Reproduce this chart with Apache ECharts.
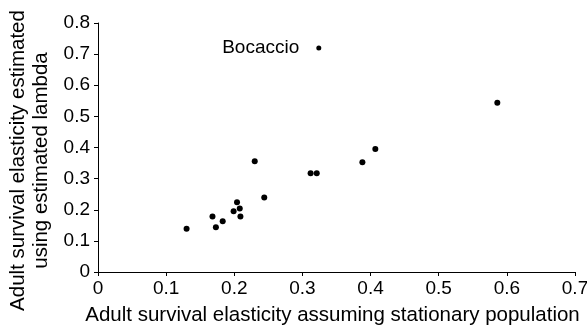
<!DOCTYPE html>
<html><head><meta charset="utf-8">
<script src="https://cdn.jsdelivr.net/npm/echarts@6/dist/echarts.min.js"></script>
<style>html,body{margin:0;padding:0;background:#fff}#c{width:587px;height:325px}</style>
</head><body><div id="c"></div>
<script>
const xTitle = "Adult survival elasticity assuming stationary population";
const yTitle = "Adult survival elasticity estimated\nusing estimated lambda";
const xValues = [0.130, 0.168, 0.173, 0.183, 0.199, 0.204, 0.208, 0.209, 0.230, 0.244, 0.312, 0.321, 0.388, 0.407, 0.586];
const yValues = [0.139, 0.178, 0.144, 0.163, 0.195, 0.224, 0.204, 0.178, 0.356, 0.239, 0.317, 0.317, 0.353, 0.395, 0.544];
const labelX = [0.324];
const labelY = [0.720];
const labelNames = ["Bocaccio"];

const font = "Liberation Sans, Arial, sans-serif";
const chart = echarts.init(document.getElementById('c'), null, {renderer: 'canvas'});
const axisCommon = {
  axisLine: {show: true, onZero: false, lineStyle: {color: '#000', width: 1}},
  axisTick: {show: true, length: 4, lineStyle: {color: '#000'}},
  splitLine: {show: false},
  axisLabel: {color: '#000', fontSize: 19, fontFamily: font},
  nameTextStyle: {color: '#000', fontSize: 20.5, fontFamily: font}
};
chart.setOption({
  animation: false,
  backgroundColor: '#fff',
  grid: {left: 98, right: 12, top: 23, bottom: 53, containLabel: false, outerBoundsMode: 'none'},
  xAxis: Object.assign({}, axisCommon, {
    type: 'value', min: 0, max: 0.7, interval: 0.1,
    name: xTitle, nameLocation: 'middle', nameGap: 33,
    nameTextStyle: Object.assign({}, axisCommon.nameTextStyle, {padding: [0, 8, 0, 0]}),
    axisLabel: Object.assign({}, axisCommon.axisLabel, {margin: 7})
  }),
  yAxis: Object.assign({}, axisCommon, {
    type: 'value', min: 0, max: 0.8, interval: 0.1,
    name: yTitle, nameLocation: 'middle', nameGap: 42,
    nameTextStyle: Object.assign({}, axisCommon.nameTextStyle, {lineHeight: 23, padding: [0, 26, 0, 0]}),
    axisLabel: Object.assign({}, axisCommon.axisLabel, {margin: 8})
  }),
  series: [
    {
      type: 'scatter', symbolSize: 6,
      itemStyle: {color: '#000', opacity: 1},
      data: xValues.map((x, i) => [x, yValues[i]])
    },
    {
      type: 'scatter', symbolSize: 5,
      itemStyle: {color: '#000', opacity: 1},
      label: {show: true, position: 'left', distance: 17, color: '#000', opacity: 1, fontSize: 19, fontFamily: font,
        formatter: p => labelNames[p.dataIndex]},
      data: labelX.map((x, i) => [x, labelY[i]])
    }
  ]
});
</script></body></html>
